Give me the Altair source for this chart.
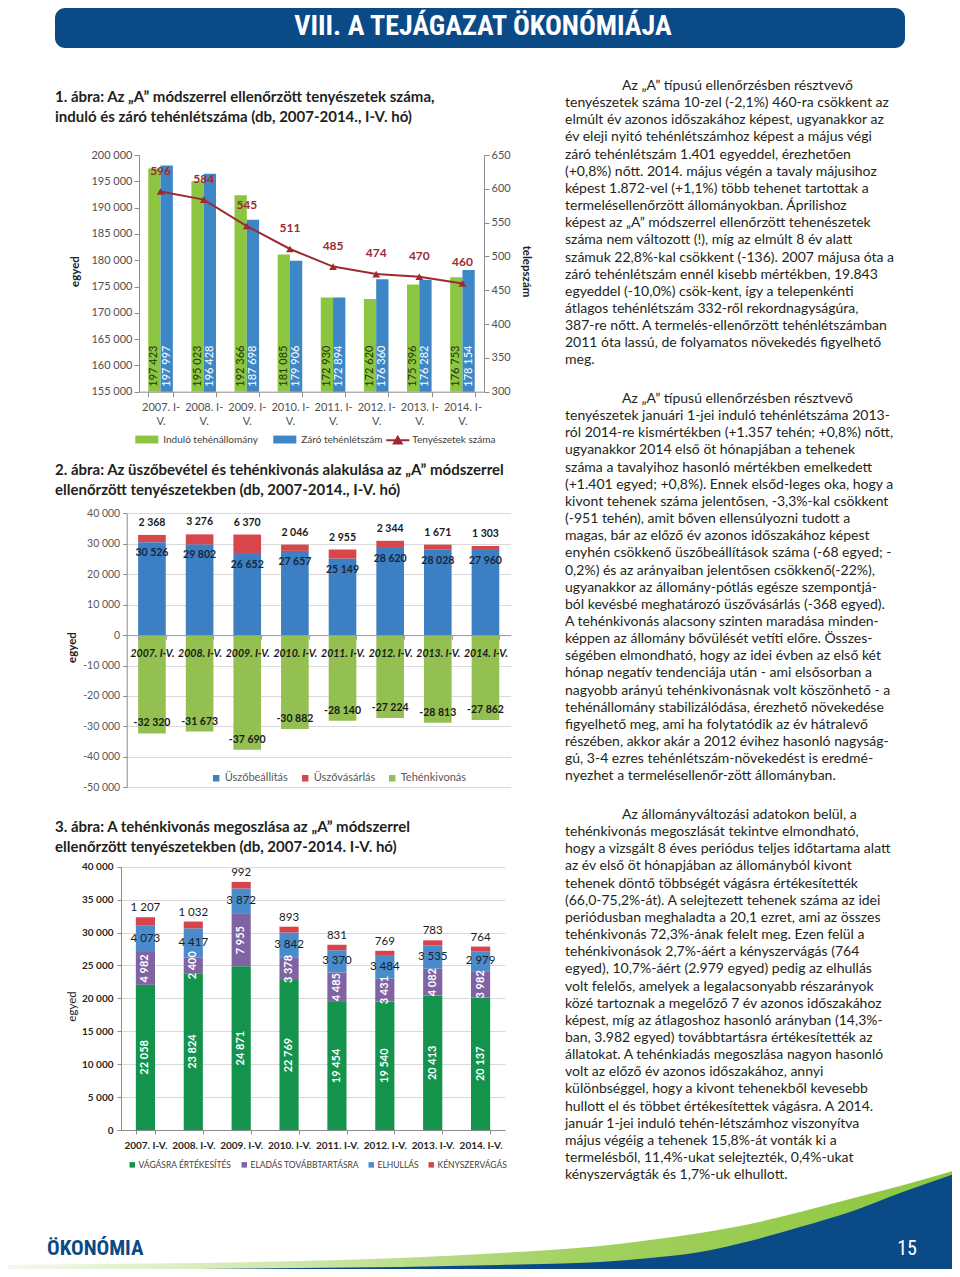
import altair as alt
import pandas as pd

# ---------------- page texts ----------------
page_title = "VIII. A TEJÁGAZAT ÖKONÓMIÁJA"
footer_left = "ÖKONÓMIA"
page_number = "15"

title1 = ["1. ábra: Az „A” módszerrel ellenőrzött tenyészetek száma,",
          "induló és záró tehénlétszáma (db, 2007-2014., I-V. hó)"]
title2 = ["2. ábra: Az üszőbevétel és tehénkivonás alakulása az „A” módszerrel",
          "ellenőrzött tenyészetekben (db, 2007-2014., I-V. hó)"]
title3 = ["3. ábra: A tehénkivonás megoszlása az „A” módszerrel",
          "ellenőrzött tenyészetekben (db, 2007-2014. I-V. hó)"]

para1 = [
    "Az „A” típusú ellenőrzésben résztvevő",
    "tenyészetek száma 10-zel (-2,1%) 460-ra csökkent az",
    "elmúlt év azonos időszakához képest, ugyanakkor az",
    "év eleji nyitó tehénlétszámhoz képest a május végi",
    "záró tehénlétszám 1.401 egyeddel, érezhetően",
    "(+0,8%) nőtt. 2014. május végén a tavaly májusihoz",
    "képest 1.872-vel (+1,1%) több tehenet tartottak a",
    "termelésellenőrzött állományokban. Áprilishoz",
    "képest az „A” módszerrel ellenőrzött tehenészetek",
    "száma nem változott (!), míg az elmúlt 8 év alatt",
    "számuk 22,8%-kal csökkent (-136). 2007 májusa óta a",
    "záró tehénlétszám ennél kisebb mértékben, 19.843",
    "egyeddel (-10,0%) csök-kent, így a telepenkénti",
    "átlagos tehénlétszám 332-ről rekordnagyságúra,",
    "387-re nőtt. A termelés-ellenőrzött tehénlétszámban",
    "2011 óta lassú, de folyamatos növekedés figyelhető",
    "meg.",
]
para2 = [
    "Az „A” típusú ellenőrzésben résztvevő",
    "tenyészetek januári 1-jei induló tehénlétszáma 2013-",
    "ról 2014-re kismértékben (+1.357 tehén; +0,8%) nőtt,",
    "ugyanakkor 2014 első öt hónapjában a tehenek",
    "száma a tavalyihoz hasonló mértékben emelkedett",
    "(+1.401 egyed; +0,8%). Ennek elsőd-leges oka, hogy a",
    "kivont tehenek száma jelentősen, -3,3%-kal csökkent",
    "(-951 tehén), amit bőven ellensúlyozni tudott a",
    "magas, bár az előző év azonos időszakához képest",
    "enyhén csökkenő üszőbeállítások száma (-68 egyed; -",
    "0,2%) és az arányaiban jelentősen csökkenő(-22%),",
    "ugyanakkor az állomány-pótlás egésze szempontjá-",
    "ból kevésbé meghatározó üszővásárlás (-368 egyed).",
    "A tehénkivonás alacsony szinten maradása minden-",
    "képpen az állomány bővülését vetíti előre. Összes-",
    "ségében elmondható, hogy az idei évben az első két",
    "hónap negatív tendenciája után - ami elsősorban a",
    "nagyobb arányú tehénkivonásnak volt köszönhető - a",
    "tehénállomány stabilizálódása, érezhető növekedése",
    "figyelhető meg, ami ha folytatódik az év hátralevő",
    "részében, akkor akár a 2012 évihez hasonló nagyság-",
    "gú, 3-4 ezres tehénlétszám-növekedést is eredmé-",
    "nyezhet a termelésellenőr-zött állományban.",
]
para3 = [
    "Az állományváltozási adatokon belül, a",
    "tehénkivonás megoszlását tekintve elmondható,",
    "hogy a vizsgált 8 éves periódus teljes időtartama alatt",
    "az év első öt hónapjában az állományból kivont",
    "tehenek döntő többségét vágásra értékesítették",
    "(66,0-75,2%-át). A selejtezett tehenek száma az idei",
    "periódusban meghaladta a 20,1 ezret, ami az összes",
    "tehénkivonás 72,3%-ának felelt meg. Ezen felül a",
    "tehénkivonások 2,7%-áért a kényszervágás (764",
    "egyed), 10,7%-áért (2.979 egyed) pedig az elhullás",
    "volt felelős, amelyek a legalacsonyabb részarányok",
    "közé tartoznak a megelőző 7 év azonos időszakához",
    "képest, míg az átlagoshoz hasonló arányban (14,3%-",
    "ban, 3.982 egyed) továbbtartásra értékesítették az",
    "állatokat. A tehénkiadás megoszlása nagyon hasonló",
    "volt az előző év azonos időszakához, annyi",
    "különbséggel, hogy a kivont tehenekből kevesebb",
    "hullott el és többet értékesítettek vágásra. A 2014.",
    "január 1-jei induló tehén-létszámhoz viszonyítva",
    "május végéig a tehenek 15,8%-át vonták ki a",
    "termelésből, 11,4%-ukat selejtezték, 0,4%-ukat",
    "kényszervágták és 1,7%-uk elhullott.",
]

# ---------------- chart data ----------------
years = ["2007. I-V.", "2008. I-V.", "2009. I-V.", "2010. I-V.",
         "2011. I-V.", "2012. I-V.", "2013. I-V.", "2014. I-V."]

# chart 1
indulo = [197423, 195023, 192366, 181085, 172930, 172620, 175396, 176753]
zaro = [197997, 196428, 187698, 179906, 172894, 176360, 176282, 178154]
tenyeszetek = [596, 584, 545, 511, 485, 474, 470, 460]
c1_series = ["Induló tehénállomány", "Záró tehénlétszám"]
c1_line_name = "Tenyészetek száma"
c1_y_ticks = [155000, 160000, 165000, 170000, 175000, 180000, 185000, 190000, 195000, 200000]
c1_y2_ticks = [300, 350, 400, 450, 500, 550, 600, 650]

# chart 2
uszobeallitas = [30526, 29802, 26652, 27657, 25149, 28620, 28028, 27960]
uszovasarlas = [2368, 3276, 6370, 2046, 2955, 2344, 1671, 1303]
tehenkivonas = [-32320, -31673, -37690, -30882, -28140, -27224, -28813, -27862]
c2_series = ["Üszőbeállítás", "Üszővásárlás", "Tehénkivonás"]
c2_y_ticks = [-50000, -40000, -30000, -20000, -10000, 0, 10000, 20000, 30000, 40000]

# chart 3
vagasra = [22058, 23824, 24871, 22769, 19454, 19540, 20413, 20137]
eladas = [4982, 2400, 7955, 3378, 4485, 3431, 4082, 3982]
elhullas = [4073, 4417, 3872, 3842, 3370, 3484, 3535, 2979]
kenyszer = [1207, 1032, 992, 893, 831, 769, 783, 764]
c3_series = ["VÁGÁSRA ÉRTÉKESÍTÉS", "ELADÁS TOVÁBBTARTÁSRA", "ELHULLÁS", "KÉNYSZERVÁGÁS"]
c3_y_ticks = [0, 5000, 10000, 15000, 20000, 25000, 30000, 35000, 40000]

# footer decoration outline (page pixels)
foot_x = [0, 100, 200, 300, 400, 500, 600, 650, 700, 750, 800, 850, 900, 960]
foot_green_top = [1265, 1264, 1263, 1261, 1258, 1253, 1246, 1240, 1233, 1224, 1212, 1199, 1186, 1169]
foot_blue_top = [1269, 1269, 1269, 1268, 1267, 1265, 1262, 1258, 1252, 1241, 1227, 1212, 1193, 1172]

# ---------------- styling ----------------
W, H, M = 944, 1261, 8


def P(v):
    return v - M


FONT = "Lato, Carlito, Calibri, sans-serif"
FONT_C = "Liberation Sans Narrow, Arial Narrow, Roboto Condensed, Lato, sans-serif"
TXT = "#231f20"
PAGE_BLUE = "#0a4a87"
PAGE_GREEN = "#8dc63f"
AXC = "#8c8c8c"
GRID = "#d9d9d9"
GREEN1, BLUE1, RED1 = "#8cc540", "#3e87c6", "#9e2a30"
BLUE2, RED2, GREEN2 = "#3c7fc2", "#d6464a", "#93c051"
GREEN3, PURPLE3, BLUE3, RED3 = "#13934b", "#7f63a2", "#4a8ccb", "#d8434a"
NUM_LABEL = "format(datum.value, ',')"


def text_block(lines, x_img, y_first, line_h, size, weight="normal", color=TXT, indent=0, font=FONT):
    n = len(lines)
    span = max(n - 1, 1)
    df = pd.DataFrame({"t": lines, "i": list(range(n)), "ind": [1] + [0] * (n - 1)})
    return alt.Chart(df).mark_text(align="left", baseline="middle", font=font, fontSize=size,
                                   fontWeight=weight, color=color).encode(
        x=alt.X("ind:Q", axis=None,
                scale=alt.Scale(domain=[0, 1], range=[P(x_img), P(x_img + indent)], nice=False, zero=False)),
        y=alt.Y("i:Q", axis=None,
                scale=alt.Scale(domain=[0, span], range=[P(y_first), P(y_first + line_h * span)], nice=False, zero=False)),
        text="t:N")


def label_at(txt, x, y, **mk):
    return alt.Chart(pd.DataFrame({"t": [txt]})).mark_text(**mk).encode(
        x=alt.value(P(x)), y=alt.value(P(y)), text="t:N")


def legend(x, y, **kw):
    base = dict(orient="none", legendX=P(x), legendY=P(y), direction="horizontal", title=None,
                padding=0, labelFont=FONT, symbolStrokeWidth=0)
    base.update(kw)
    return alt.Legend(**base)


# ---------------- footer + banner ----------------
df_foot = pd.DataFrame({"x": foot_x, "g": foot_green_top, "b": foot_blue_top})
fx = alt.X("x:Q", axis=None, scale=alt.Scale(domain=[0, 960], range=[P(0), P(960)], nice=False, zero=False))


def fy(field):
    return alt.Y(f"{field}:Q", axis=None,
                 scale=alt.Scale(domain=[1100, 1277], range=[P(1100), P(1277)], nice=False, zero=False))


green_grad = alt.LinearGradient(gradient="linear", x1=0, x2=1, y1=0, y2=0, stops=[
    alt.GradientStop(offset=0, color="#f4f9ec"),
    alt.GradientStop(offset=0.3, color="#cfe7ab"),
    alt.GradientStop(offset=0.6, color="#a2d160"),
    alt.GradientStop(offset=1, color=PAGE_GREEN)])
foot_green = alt.Chart(df_foot).mark_area(interpolate="monotone", color=green_grad).encode(
    x=fx, y=fy("g"), y2=alt.datum(1277))
foot_blue = alt.Chart(df_foot).mark_area(interpolate="monotone", color=PAGE_BLUE).encode(
    x=fx, y=fy("b"), y2=alt.datum(1277))
foot_txt = label_at(footer_left, 47, 1249, align="left", baseline="middle", font=FONT_C,
                    fontSize=21, fontWeight="bold", color=PAGE_BLUE)
foot_num = label_at(page_number, 907, 1249, align="center", baseline="middle", font=FONT_C,
                    fontSize=20, color="white")

banner = alt.Chart(pd.DataFrame({"k": [0]})).mark_rect(color=PAGE_BLUE, cornerRadius=10).encode(
    x=alt.value(P(55)), x2=alt.value(P(905)), y=alt.value(0), y2=alt.value(P(48)))
banner_txt = label_at(page_title, 483, 27, align="center", baseline="middle", font=FONT_C,
                      fontSize=28, fontWeight="bold", color="white")

t1 = text_block(title1, 55, 97, 20, 15, weight="bold")
t2 = text_block(title2, 55, 470, 20, 15, weight="bold")
t3 = text_block(title3, 55, 827, 20, 15, weight="bold")
p1 = text_block(para1, 565, 86, 17.15, 14, indent=57)
p2 = text_block(para2, 565, 399, 17.15, 14, indent=57)
p3 = text_block(para3, 565, 815, 17.15, 14, indent=57)

# ---------------- chart 1 ----------------
df1 = pd.DataFrame({"ev": years * 2, "sor": [c1_series[0]] * 8 + [c1_series[1]] * 8, "v": indulo + zaro})
df1l = pd.DataFrame({"ev": years, "sor": [c1_line_name] * 8, "n": tenyeszetek})

X1 = alt.X("ev:N", sort=years, title=None,
           scale=alt.Scale(domain=years, range=[P(139), P(484)], paddingInner=0.43, paddingOuter=0.215),
           axis=alt.Axis(orient="bottom", offset=P(391.7) - H, labelAngle=0,
                         labelExpr="[slice(datum.label, 0, 8), slice(datum.label, 8)]",
                         labelFont=FONT, labelFontSize=11, labelColor="#505050", labelPadding=5,
                         labelLineHeight=14, domainColor=AXC, tickColor=AXC, tickBand="extent",
                         tickSize=5, grid=False))
y1_scale = alt.Scale(domain=[c1_y_ticks[0], c1_y_ticks[-1]], range=[P(391.7), P(155)], zero=False, nice=False)
y1_axis = alt.Axis(orient="left", offset=-P(139), values=c1_y_ticks, labelExpr=NUM_LABEL, grid=False,
                   labelFont=FONT, labelFontSize=11, labelColor="#505050", tickSize=5,
                   domainColor=AXC, tickColor=AXC, titleFont=FONT, titleFontSize=11.5,
                   titleFontWeight="bold", titleColor="#222222", titleAngle=270,
                   titleX=75 - 139, titleY=P(271), titleAlign="center", titleBaseline="middle")
Y1 = alt.Y("v:Q", title="egyed", scale=y1_scale, axis=y1_axis)
XO1 = alt.XOffset("sor:N", sort=c1_series, scale=alt.Scale(domain=c1_series, paddingInner=0, paddingOuter=0))

bars1 = alt.Chart(df1).mark_bar().encode(
    x=X1, xOffset=XO1, y=Y1, y2=alt.datum(c1_y_ticks[0]),
    color=alt.Color("sor:N", scale=alt.Scale(domain=c1_series, range=[GREEN1, BLUE1]),
                    legend=legend(139.3, 431.8, symbolType="M-1.6,-0.55H1.6V0.55H-1.6Z", symbolSize=207,
                                  labelFontSize=10, labelColor="#404040", labelOffset=9,
                                  columnPadding=14)))
barlab1 = alt.Chart(df1).mark_text(angle=270, align="left", baseline="middle", dx=5,
                                   font=FONT, fontSize=11).encode(
    x=X1, xOffset=XO1,
    y=alt.YDatum(c1_y_ticks[0], title="egyed", scale=y1_scale, axis=y1_axis),
    text=alt.Text("v:Q", format=","),
    color=alt.condition(alt.datum.sor == c1_series[0], alt.value("#22360d"), alt.value("white")))

Y1r = alt.Y("n:Q", title="telepszám",
            scale=alt.Scale(domain=[c1_y2_ticks[0], c1_y2_ticks[-1]], range=[P(391.7), P(155)], zero=False, nice=False),
            axis=alt.Axis(orient="right", offset=P(484) - W, values=c1_y2_ticks, grid=False,
                          labelFont=FONT, labelFontSize=11, labelColor="#505050", tickSize=5,
                          domainColor=AXC, tickColor=AXC, titleFont=FONT, titleFontSize=11.5,
                          titleFontWeight="bold", titleColor="#222222", titleAngle=90,
                          titleX=525 - 484, titleY=P(271), titleAlign="center", titleBaseline="middle"))
line1 = alt.Chart(df1l).mark_line(color=RED1, strokeWidth=2).encode(x=X1, y=Y1r)
pts1 = alt.Chart(df1l).mark_point(shape="triangle-up", filled=True, size=60, opacity=1).encode(
    x=X1, y=Y1r,
    color=alt.Color("sor:N", scale=alt.Scale(domain=[c1_line_name], range=[RED1]),
                    legend=legend(389.3, 431.8, symbolType="M-1.6,0H1.6M0,-0.5L0.55,0.45H-0.55Z",
                                  symbolSize=207, symbolStrokeColor=RED1, symbolStrokeWidth=2,
                                  labelFontSize=10, labelColor="#404040", labelOffset=6)))
linelab1 = alt.Chart(df1l).mark_text(dy=-21, font=FONT, fontSize=12, fontWeight="bold", color=RED1).encode(
    x=X1, y=Y1r, text="n:Q")

chart1 = alt.layer(alt.layer(bars1, barlab1), alt.layer(line1, pts1, linelab1)).resolve_scale(
    y="independent", color="independent")

# ---------------- chart 2 ----------------
rows2 = []
for i, ev in enumerate(years):
    b, v, k = uszobeallitas[i], uszovasarlas[i], tehenkivonas[i]
    rows2.append({"ev": ev, "sor": c2_series[0], "y0": 0, "y1": b, "val": b})
    rows2.append({"ev": ev, "sor": c2_series[1], "y0": b, "y1": b + v, "val": v})
    rows2.append({"ev": ev, "sor": c2_series[2], "y0": 0, "y1": k, "val": k})
df2 = pd.DataFrame(rows2)

X2 = alt.X("ev:N", sort=years, title=None,
           scale=alt.Scale(domain=years, range=[P(126.7), P(510.7)], paddingInner=0.42, paddingOuter=0.24),
           axis=alt.Axis(orient="bottom", offset=P(635.1) - H, labelAngle=0, labelFont=FONT,
                         labelFontSize=10.5, labelFontStyle="italic", labelFontWeight="bold",
                         labelColor="#1a1a1a", labelPadding=9, domainColor="#9a9a9a", tickColor="#9a9a9a",
                         tickBand="extent", tickSize=4, grid=False, zindex=1))


def Y2(field):
    return alt.Y(f"{field}:Q", title="egyed",
                 scale=alt.Scale(domain=[c2_y_ticks[0], c2_y_ticks[-1]], range=[P(787.3), P(513.3)], nice=False, zero=False),
                 axis=alt.Axis(orient="left", offset=-P(126.7), values=c2_y_ticks, labelExpr=NUM_LABEL, grid=True,
                               gridColor=GRID, domainColor=AXC, tickColor=AXC, tickSize=4,
                               labelFont=FONT, labelFontSize=10.5, labelColor="#595959", labelPadding=3,
                               titleFont=FONT, titleFontSize=11.5, titleFontWeight="bold", titleColor="#222222",
                               titleAngle=270, titleX=72 - 126.7, titleY=P(647), titleAlign="center",
                               titleBaseline="middle"))


bars2 = alt.Chart(df2).mark_bar().encode(
    x=X2, y=Y2("y0"), y2="y1",
    color=alt.Color("sor:N", scale=alt.Scale(domain=c2_series, range=[BLUE2, RED2, GREEN2]),
                    legend=legend(210.7, 772.5, symbolType="square", symbolSize=42, labelFontSize=11,
                                  labelColor="#595959", labelOffset=3, columnPadding=11)))


def lab2(series, dy, color="#1a1a1a"):
    return alt.Chart(df2).transform_filter(alt.datum.sor == series).mark_text(
        dy=dy, font=FONT, fontSize=10.5, fontWeight="bold", color=color).encode(
        x=X2, y=Y2("y1"), text=alt.Text("val:Q", format=","))


chart2 = alt.layer(bars2, lab2(c2_series[0], 11, "#17263d"), lab2(c2_series[1], -12),
                   lab2(c2_series[2], -10))

# ---------------- chart 3 ----------------
rows3 = []
for i, ev in enumerate(years):
    base = 0
    for s, arr in zip(c3_series, [vagasra, eladas, elhullas, kenyszer]):
        rows3.append({"ev": ev, "sor": s, "y0": base, "y1": base + arr[i],
                      "mid": base + arr[i] / 2, "val": arr[i]})
        base += arr[i]
df3 = pd.DataFrame(rows3)

X3 = alt.X("ev:N", sort=years, title=None,
           scale=alt.Scale(domain=years, range=[P(121), P(505)], paddingInner=0.6, paddingOuter=0.31),
           axis=alt.Axis(orient="bottom", offset=P(1130) - H, labelAngle=0, labelFont=FONT,
                         labelFontSize=10, labelFontWeight="bold", labelColor="#262626", labelPadding=6,
                         domainColor=AXC, tickColor=AXC, tickBand="extent", tickSize=4, grid=False))


def Y3(field):
    return alt.Y(f"{field}:Q", title="egyed",
                 scale=alt.Scale(domain=[c3_y_ticks[0], c3_y_ticks[-1]], range=[P(1130), P(866.7)], nice=False, zero=False),
                 axis=alt.Axis(orient="left", offset=-P(121), values=c3_y_ticks, labelExpr=NUM_LABEL, grid=True,
                               gridColor=GRID, domainColor=AXC, tickColor=AXC, tickSize=4,
                               labelFont=FONT, labelFontSize=10, labelFontWeight="bold", labelColor="#262626",
                               labelPadding=4, titleFont=FONT, titleFontSize=11.5, titleFontWeight="normal",
                               titleColor="#222222", titleAngle=270, titleX=72 - 121, titleY=P(1006),
                               titleAlign="center", titleBaseline="middle"))


bars3 = alt.Chart(df3).mark_bar().encode(
    x=X3, y=Y3("y0"), y2="y1",
    color=alt.Color("sor:N", scale=alt.Scale(domain=c3_series, range=[GREEN3, PURPLE3, BLUE3, RED3]),
                    legend=legend(128, 1160.5, symbolType="square", symbolSize=30, labelFontSize=8.5,
                                  labelColor="#404040", labelOffset=2, columnPadding=8)))


def lab3(series, field, **mk):
    return alt.Chart(df3).transform_filter(alt.datum.sor == series).mark_text(
        font=FONT, **mk).encode(x=X3, y=Y3(field), text=alt.Text("val:Q", format=","))


chart3 = alt.layer(
    bars3,
    lab3(c3_series[0], "mid", angle=270, fontSize=11, fontWeight="bold", color="white"),
    lab3(c3_series[1], "mid", angle=270, fontSize=11, fontWeight="bold", color="white"),
    lab3(c3_series[2], "mid", fontSize=11.5, color="#141c2b"),
    lab3(c3_series[3], "y1", dy=-9, fontSize=11.5, color="#1a1a1a"),
)

# ---------------- page ----------------
chart = alt.layer(
    foot_green, foot_blue, foot_txt, foot_num, banner, banner_txt,
    t1, t2, t3, p1, p2, p3, chart1, chart2, chart3,
).resolve_scale(x="independent", y="independent", color="independent").properties(
    width=W, height=H, padding=0, autosize=alt.AutoSizeParams(type="none"),
).configure(
    locale={"number": {"decimal": ",", "thousands": " ", "grouping": [3],
                       "currency": ["", ""], "minus": "-"}}
).configure_view(strokeWidth=0)

chart.save("out.html", embed_options={"renderer": "svg", "actions": False})
